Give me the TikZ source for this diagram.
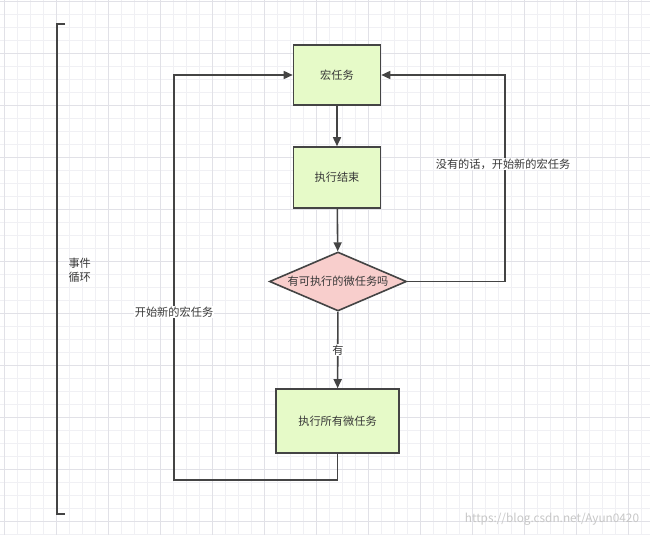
\documentclass[tikz,border=0pt]{standalone}
\usepackage{fontspec}
\setmainfont{Noto Sans CJK SC}
\usetikzlibrary{shapes.geometric,arrows.meta}

\definecolor{taskgreen}{RGB}{230,250,200}
\definecolor{checkpink}{RGB}{248,206,204}
\definecolor{edgegray}{RGB}{68,68,68}
\definecolor{gridminor}{RGB}{240,240,244}
\definecolor{gridmajor}{RGB}{225,225,231}

\tikzset{
    task/.style={draw=edgegray, fill=taskgreen, line width=1.6pt, inner sep=0pt},
    check/.style={diamond, draw=edgegray, fill=checkpink, line width=1.6pt,
        aspect=2.3, inner sep=0pt, minimum width=137pt, minimum height=59pt},
    lbl/.style={fill=white, inner sep=1pt},
    flow/.style={->, draw=edgegray, line width=1.6pt},
}

\begin{document}
\begin{tikzpicture}[x=1pt, y=-1pt, >={Triangle[length=9pt,width=8pt]},
    font=\fontsize{11.2}{14}\selectfont, text=black!78]
    \useasboundingbox (0,0) rectangle (650,535);
    \fill[white] (0,0) rectangle (650,535);

    % background grid
    \foreach \x in {4,17,...,650} \draw[gridminor, line width=0.7pt] (\x,0) -- (\x,535);
    \foreach \y in {1,14,...,535} \draw[gridminor, line width=0.7pt] (0,\y) -- (650,\y);
    \foreach \x in {4,56,...,650} \draw[gridmajor, line width=0.7pt] (\x,0) -- (\x,535);
    \foreach \y in {1,53,...,535} \draw[gridmajor, line width=0.7pt] (0,\y) -- (650,\y);

    % event loop bracket
    \draw[edgegray, line width=1.6pt] (65,24) -- (57,24) -- (57,514) -- (65,514);
    \node[anchor=west, align=left] (loop) at (65,270) {事件\\循环};

    % steps
    \node[task, minimum width=87pt, minimum height=60pt] (macro) at (337,75) {宏任务};
    \node[task, minimum width=87pt, minimum height=61pt] (done) at (337,177.5) {执行结束};
    \node[check] (micro) at (338,281.5) {有可执行的微任务吗};
    \node[task, minimum width=123pt, minimum height=64pt] (runall) at (337.5,421) {执行所有微任务};

    \coordinate (loopL) at (174,480);
    \coordinate (loopR) at (505,281.5);

    \draw[flow] (macro) -- (done);
    \draw[flow] (done) -- (micro);
    \draw[flow] (micro) -- (runall);
    \draw[flow] (runall.south) |- (loopL) |- (macro.west);
    \draw[flow] (micro.east) -- (loopR) |- (macro.east);

    \node[lbl] (yes) at (338,350) {有};
    \node[lbl] (newL) at (174,312) {开始新的宏任务};
    \node[lbl] (newR) at (503,164) {没有的话，开始新的宏任务};

    \node[text=black!22, font=\fontsize{11.8}{14}\selectfont] (mark) at (552,519) {https://blog.csdn.net/Ayun0420};
\end{tikzpicture}
\end{document}
